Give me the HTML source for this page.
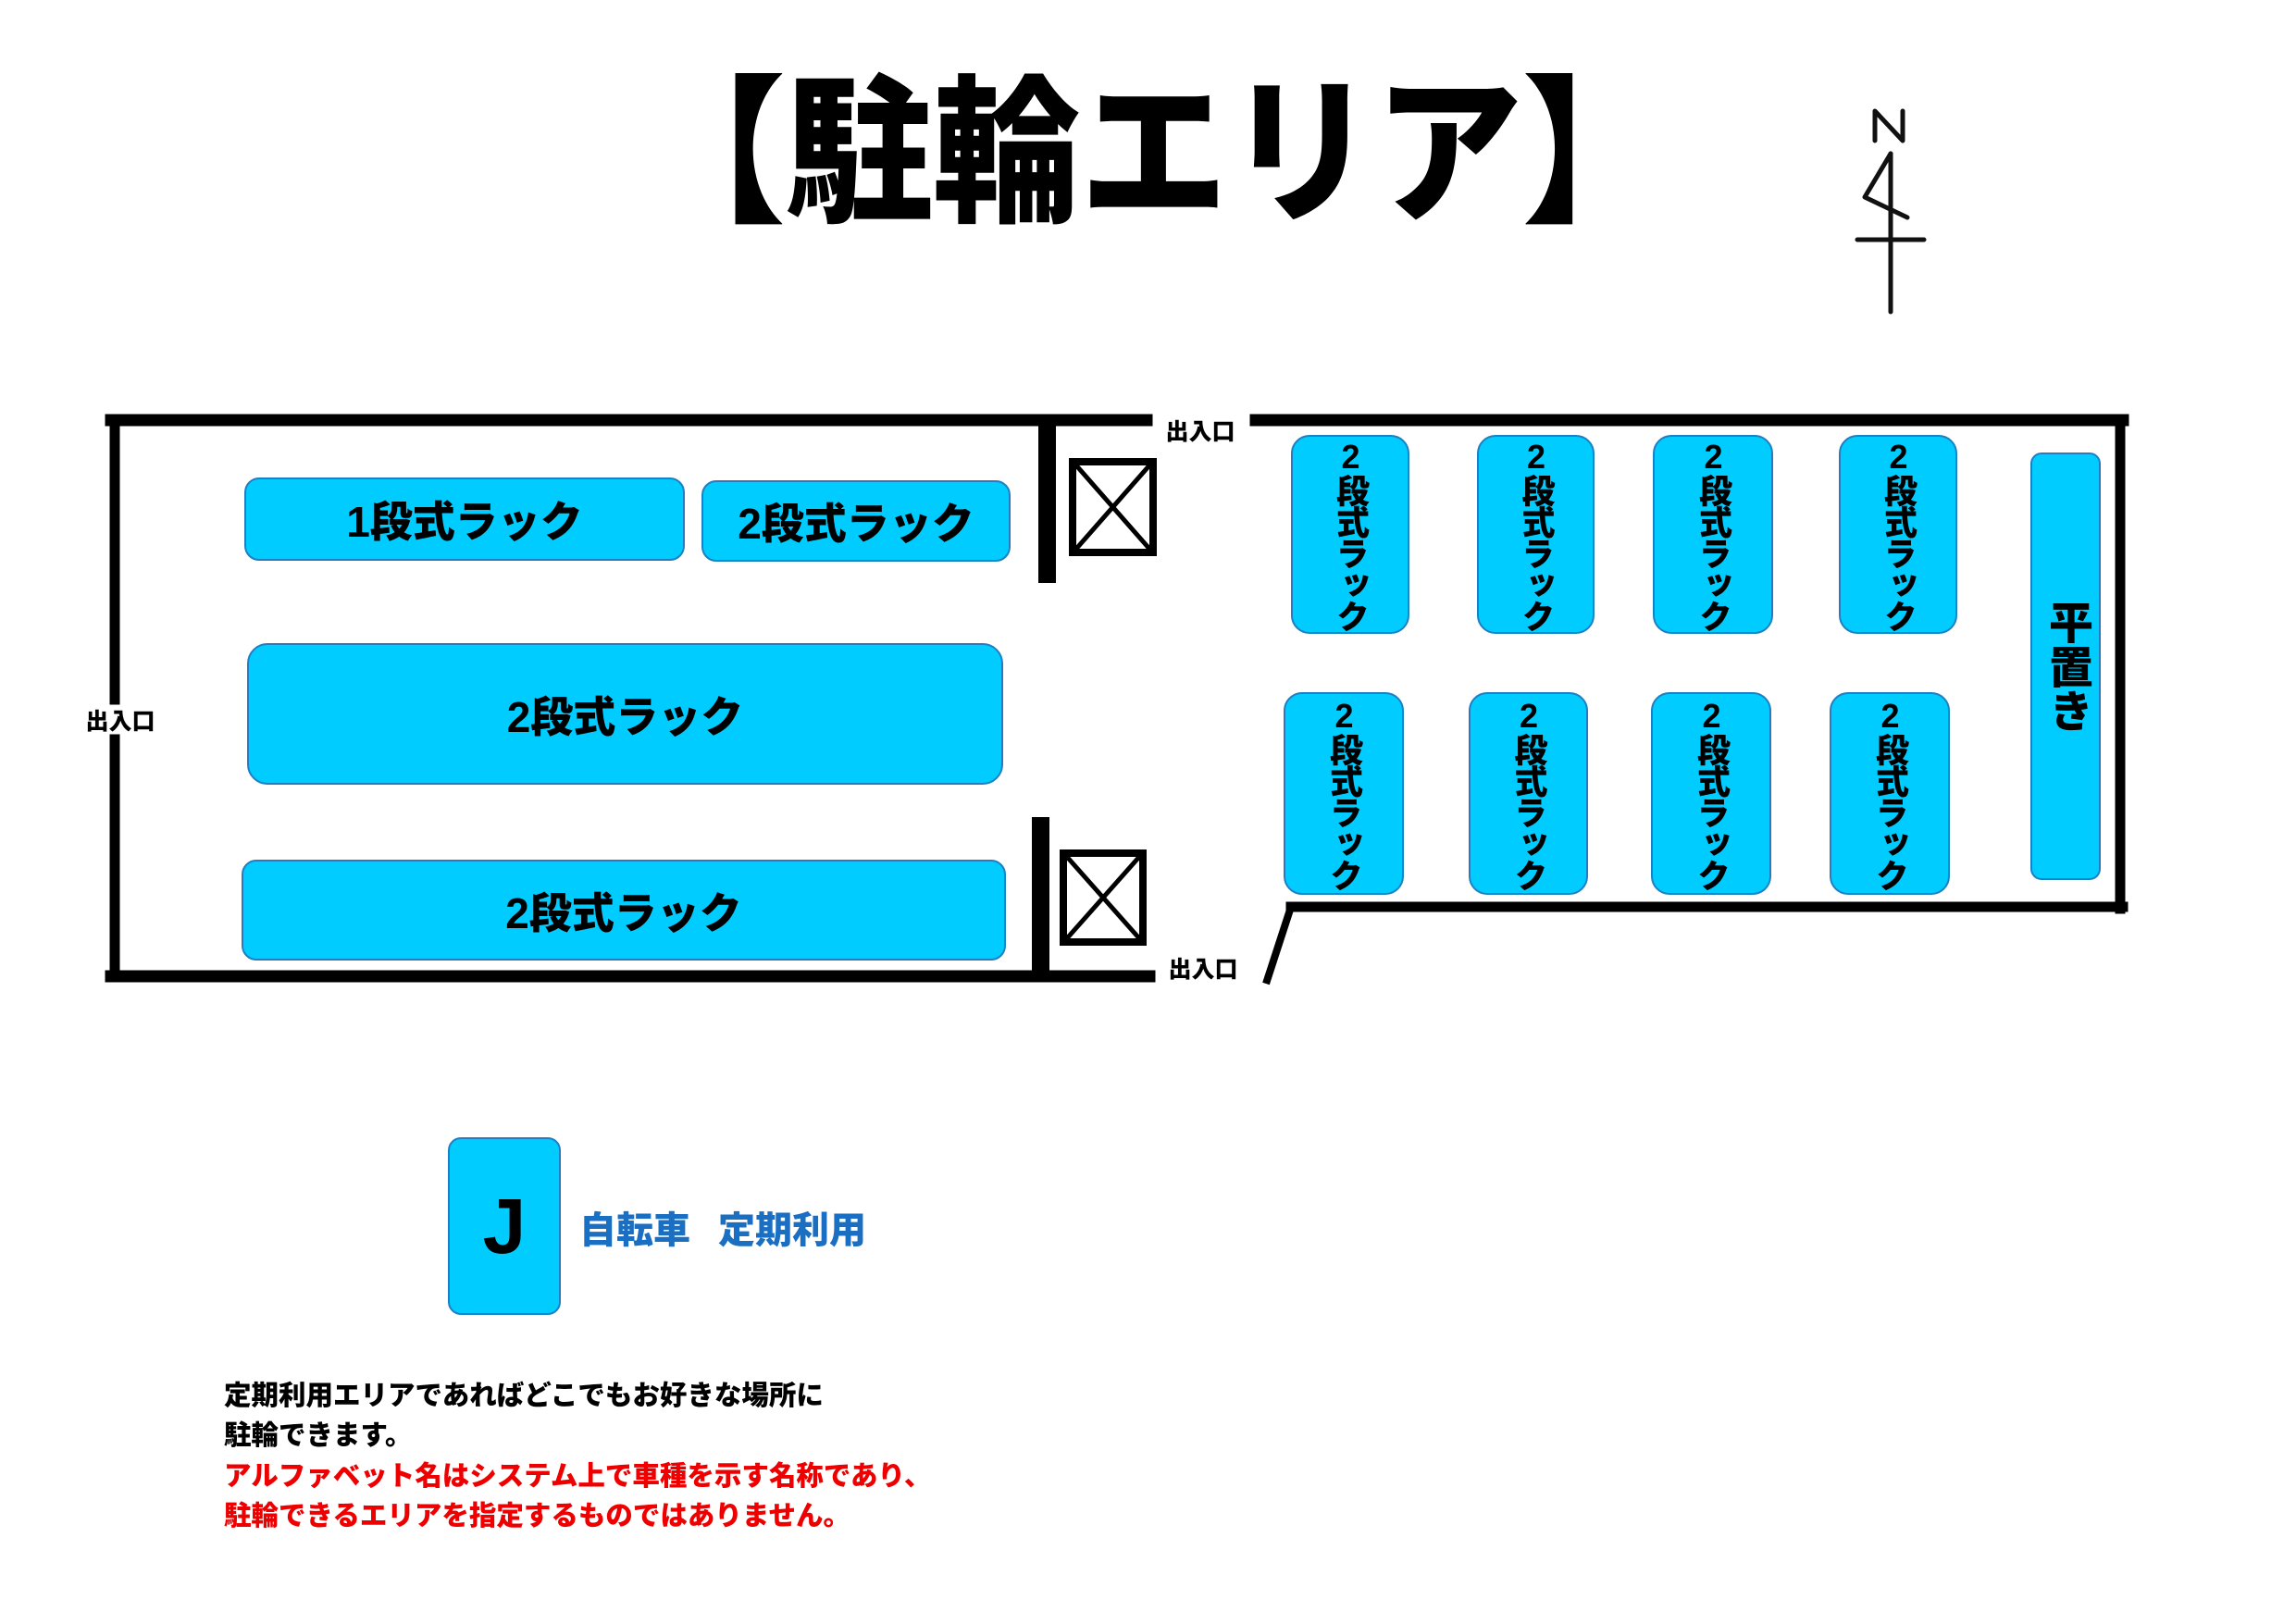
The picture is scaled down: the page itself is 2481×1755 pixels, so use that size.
<!DOCTYPE html>
<html><head><meta charset="utf-8">
<style>
html,body{margin:0;padding:0;background:#fff;}
body{width:2481px;height:1755px;position:relative;overflow:hidden;font-family:"Liberation Sans","Noto Sans CJK JP",sans-serif;}
.r{position:absolute;background:#00ccff;border:2px solid #1d7fc4;box-sizing:border-box;border-radius:16px;display:flex;align-items:center;justify-content:center;font-weight:900;color:#000;white-space:nowrap;}
.h{font-size:46px;}
.v{writing-mode:vertical-rl;text-orientation:upright;font-size:36px;letter-spacing:-2px;line-height:1;}
.lbl{position:absolute;font-weight:900;font-size:25px;color:#000;transform:translate(-50%,-50%);white-space:nowrap;}
.note{position:absolute;left:242px;font-weight:900;font-size:29.5px;white-space:nowrap;transform:translateY(-50%);}
</style></head><body>
<div style="position:absolute;left:690px;top:72px;width:918px;height:190px;overflow:visible;">
<div style="position:absolute;left:0;top:0;font-size:172px;font-weight:900;line-height:190px;white-space:nowrap;transform-origin:0 0;transform:scaleX(0.925);">【駐輪エリア】</div>
</div>
<svg width="2481" height="1755" style="position:absolute;left:0;top:0">
<g stroke="#000" fill="none" stroke-linecap="square">
<line x1="120" y1="454" x2="1239" y2="454" stroke-width="13"/>
<line x1="124" y1="454" x2="124" y2="756" stroke-width="11"/>
<line x1="124" y1="799" x2="124" y2="1055" stroke-width="11"/>
<line x1="120" y1="1055" x2="1242" y2="1055" stroke-width="13"/>
<line x1="1357" y1="454" x2="2294" y2="454" stroke-width="13"/>
<line x1="2291" y1="454" x2="2291" y2="982" stroke-width="11"/>
<line x1="1395" y1="980" x2="2294" y2="980" stroke-width="11"/>
<line x1="1395" y1="980" x2="1368" y2="1063" stroke-width="8" stroke-linecap="butt"/>
</g>
<rect x="1122" y="459" width="19" height="171" fill="#000"/>
<rect x="1115" y="883" width="19" height="172" fill="#000"/>
<g stroke="#000" stroke-width="8" fill="none">
<rect x="1159" y="499" width="87" height="98"/>
<line x1="1163" y1="503" x2="1242" y2="593" stroke-width="5"/>
<line x1="1242" y1="503" x2="1163" y2="593" stroke-width="5"/>
<rect x="1149" y="922" width="86" height="96"/>
<line x1="1153" y1="926" x2="1231" y2="1014" stroke-width="5"/>
<line x1="1231" y1="926" x2="1153" y2="1014" stroke-width="5"/>
</g>
<g stroke="#111" stroke-width="5" fill="none" stroke-linecap="round" stroke-linejoin="round">
<line x1="2043" y1="166" x2="2043" y2="337"/>
<line x1="2007" y1="259" x2="2079" y2="259"/>
<polyline points="2043,166 2015,213 2061,235"/>
<polyline points="2026,152 2026,120 2056,152 2056,120"/>
</g>
</svg>
<div class="lbl" style="left:130px;top:778px;">出入口</div>
<div class="lbl" style="left:1297px;top:465px;">出入口</div>
<div class="lbl" style="left:1300px;top:1046px;">出入口</div>

<div class="r h" style="left:264px;top:516px;width:476px;height:90px;">1段式ラック</div>
<div class="r h" style="left:758px;top:519px;width:334px;height:88px;">2段式ラック</div>
<div class="r h" style="left:267px;top:695px;width:817px;height:153px;border-radius:22px;">2段式ラック</div>
<div class="r h" style="left:261px;top:929px;width:826px;height:109px;">2段式ラック</div>

<div class="r v" style="left:1395px;top:470px;width:128px;height:215px;border-radius:20px;">2段式ラック</div>
<div class="r v" style="left:1596px;top:470px;width:127px;height:215px;border-radius:20px;">2段式ラック</div>
<div class="r v" style="left:1786px;top:470px;width:130px;height:215px;border-radius:20px;">2段式ラック</div>
<div class="r v" style="left:1987px;top:470px;width:128px;height:215px;border-radius:20px;">2段式ラック</div>
<div class="r v" style="left:1387px;top:748px;width:130px;height:219px;border-radius:20px;">2段式ラック</div>
<div class="r v" style="left:1587px;top:748px;width:129px;height:219px;border-radius:20px;">2段式ラック</div>
<div class="r v" style="left:1784px;top:748px;width:130px;height:219px;border-radius:20px;">2段式ラック</div>
<div class="r v" style="left:1977px;top:748px;width:130px;height:219px;border-radius:20px;">2段式ラック</div>
<div class="r" style="left:2194px;top:489px;width:76px;height:462px;border-radius:12px;writing-mode:vertical-rl;text-orientation:upright;font-size:48px;line-height:1;">平置き</div>

<div class="r" style="left:484px;top:1229px;width:122px;height:192px;border-radius:14px;font-size:84px;">J</div>
<div style="position:absolute;left:626px;top:1326px;transform:translateY(-50%);font-weight:900;font-size:40px;color:#1a6fc2;white-space:nowrap;">自転車<span style="display:inline-block;width:30px"></span>定期利用</div>

<div class="note" style="top:1506px;">定期利用エリアであればどこでもお好きな場所に</div>
<div class="note" style="top:1549px;">駐輪できます。</div>
<div class="note" style="top:1593px;color:#ee0000;">アルファベット名はシステム上で車種を示す名称であり、</div>
<div class="note" style="top:1636px;color:#ee0000;">駐輪できるエリアを指定するものではありません。</div>
</body></html>
